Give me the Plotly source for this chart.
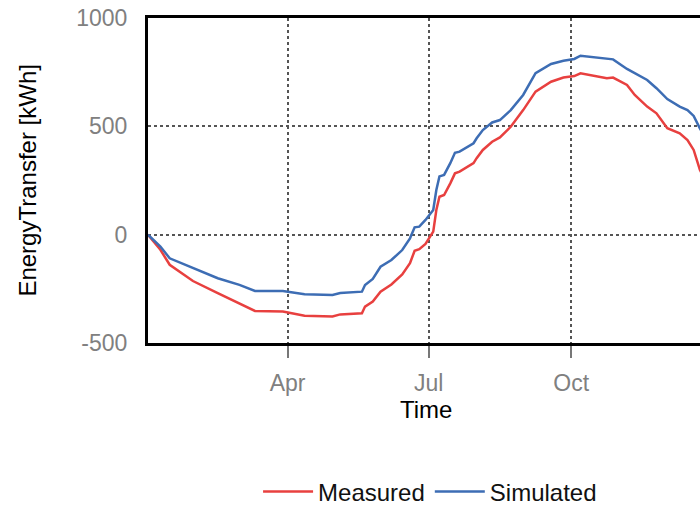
import plotly.graph_objects as go

dates = ["2021-01-01", "2021-01-04", "2021-01-09", "2021-01-15", "2021-01-30", "2021-02-15",
         "2021-03-01", "2021-03-11", "2021-03-29", "2021-04-12", "2021-04-30", "2021-05-05",
         "2021-05-19", "2021-05-21", "2021-05-26", "2021-05-31", "2021-06-07", "2021-06-14",
         "2021-06-19", "2021-06-22", "2021-06-25", "2021-06-29", "2021-07-04", "2021-07-06",
         "2021-07-08", "2021-07-11", "2021-07-15", "2021-07-18", "2021-07-21", "2021-07-26",
         "2021-07-30", "2021-08-01", "2021-08-05", "2021-08-11", "2021-08-16", "2021-08-23",
         "2021-08-31", "2021-09-08", "2021-09-18", "2021-09-26", "2021-10-03", "2021-10-07",
         "2021-10-13", "2021-10-24", "2021-10-28", "2021-11-06", "2021-11-11", "2021-11-19",
         "2021-11-25", "2021-12-02", "2021-12-10", "2021-12-15", "2021-12-19", "2021-12-23",
         "2021-12-29"]

measured = [0, -25, -70, -139, -214, -270,
            -317, -352, -355, -374, -378, -368,
            -363, -332, -309, -263, -230, -184,
            -132, -74, -67, -43, 14, 114,
            175, 183, 237, 283, 291, 314,
            330, 353, 391, 429, 449, 498,
            575, 660, 706, 725, 732, 745,
            737, 722, 725, 691, 645, 591,
            560, 491, 468, 437, 391, 299,
            220]

simulated = [0, -20, -55, -109, -154, -201,
             -232, -260, -260, -275, -278, -269,
             -263, -232, -204, -148, -117, -71,
             -17, 34, 37, 68, 114, 206,
             269, 276, 330, 378, 383, 406,
             422, 445, 483, 518, 529, 575,
             645, 745, 788, 803, 811, 826,
             821, 809, 809, 765, 744, 714,
             676, 626, 591, 575, 548, 491,
             420]

tick_vals = ["2021-04-01", "2021-07-01", "2021-10-01"]
tick_text = ["Apr", "Jul", "Oct"]
y_ticks = [-500, 0, 500, 1000]
y_tick_text = ["-500", "0", "500", "1000"]

FONT = "Liberation Sans, Arial, Helvetica, sans-serif"

fig = go.Figure()
fig.add_trace(go.Scatter(x=dates, y=measured, mode="lines", name="Measured",
                         line=dict(color="#e8403f", width=2.5)))
fig.add_trace(go.Scatter(x=dates, y=simulated, mode="lines", name="Simulated",
                         line=dict(color="#3d6db4", width=2.5)))

fig.update_layout(
    width=700, height=508,
    margin=dict(l=148, r=0, t=18, b=165, autoexpand=False),
    paper_bgcolor="white", plot_bgcolor="white",
    font=dict(family=FONT, size=24, color="black"),
    showlegend=True,
    legend=dict(orientation="h", xref="paper", x=0.511, xanchor="center",
                yref="container", y=0.0315, yanchor="middle", itemwidth=50,
                font=dict(size=24, color="#111111"), bgcolor="rgba(0,0,0,0)"),
    xaxis=dict(
        type="date", automargin=False,
        range=["2021-01-01", "2021-12-23 02:00"],
        tickmode="array", tickvals=tick_vals, ticktext=tick_text,
        ticks="outside", ticklen=12, tickwidth=1.5, tickcolor="#777777",
        ticklabelstandoff=5, ticklabeloverflow="allow",
        tickfont=dict(size=23, color="#808080"),
        showgrid=True, gridcolor="#555555", gridwidth=1.5, griddash="dot",
        showline=True, linecolor="black", linewidth=3, mirror=True,
        zeroline=False,
    ),
    yaxis=dict(
        range=[-500, 1000], automargin=False,
        tickmode="array", tickvals=y_ticks, ticktext=y_tick_text,
        ticks="", ticklabelstandoff=13, ticklabeloverflow="allow",
        tickfont=dict(size=23, color="#808080"),
        showgrid=True, gridcolor="#555555", gridwidth=1.5, griddash="dot",
        showline=True, linecolor="black", linewidth=3, mirror=False,
        zeroline=False,
    ),
    annotations=[
        dict(text="EnergyTransfer [kWh]", xref="paper", yref="paper",
             x=-0.219, y=0.5, xanchor="center", yanchor="middle", textangle=-90,
             showarrow=False, font=dict(size=24, color="black")),
        dict(text="Time", xref="paper", yref="paper",
             x=0.504, y=-0.206, xanchor="center", yanchor="middle",
             showarrow=False, font=dict(size=24, color="black")),
    ],
)

fig.write_html("out.html", config={"displayModeBar": False},
               post_script="document.body.style.margin='0';")
